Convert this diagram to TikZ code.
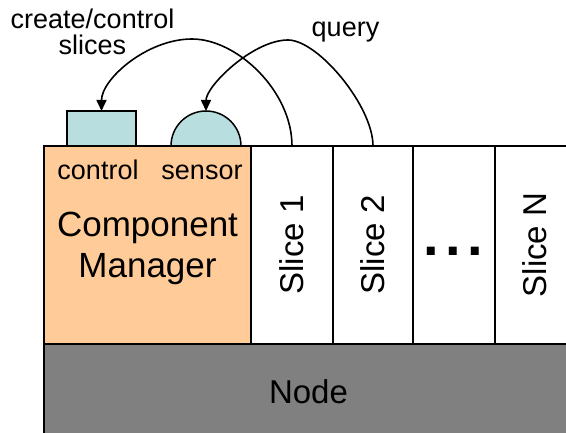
\documentclass[tikz,border=0pt]{standalone}
\usepackage{fontspec}
\setmainfont{Liberation Sans}
\usetikzlibrary{arrows.meta,calc}
\definecolor{peach}{HTML}{FFCC99}
\definecolor{tealbox}{HTML}{B8DEE0}
\definecolor{basegray}{HTML}{808080}
\begin{document}
\begin{tikzpicture}[x=1pt,y=-1pt,
  box/.style={draw=black, line width=1.5pt, inner sep=0pt, outer sep=0pt},
  small/.style={font=\fontsize{27}{31}\selectfont, inner sep=0pt, anchor=base},
  big/.style={font=\fontsize{35}{41}\selectfont, inner sep=0pt, anchor=base},
  slicetext/.style={font=\fontsize{33}{38}\selectfont, inner sep=0pt, rotate=90},
  arr/.style={line width=1.6pt, -{Triangle[length=11pt,width=10pt]}}]
\useasboundingbox (0,0) rectangle (566,433);
\clip (0,0) rectangle (566,433);
% base
\node[box, fill=basegray, minimum width=560pt, minimum height=120pt, anchor=north west] (base) at (44,344) {};
% component manager and slices
\node[box, fill=peach, minimum width=207pt, minimum height=198pt, anchor=north west] (cm) at (44,146) {};
\node[box, fill=white, minimum width=82pt, minimum height=198pt, anchor=north west] (s1) at (251,146) {};
\node[box, fill=white, minimum width=80pt, minimum height=198pt, anchor=north west] (s2) at (333,146) {};
\node[box, fill=white, minimum width=82pt, minimum height=198pt, anchor=north west] (sd) at (413,146) {};
\node[box, fill=white, minimum width=81pt, minimum height=198pt, anchor=north west] (sn) at (495,146) {};
% control and sensor
\node[box, fill=tealbox, minimum width=69pt, minimum height=35pt, anchor=south west] (ctrl) at (67,146) {};
\draw[line width=1.5pt, fill=tealbox] (171,146) arc[start angle=180, end angle=0, radius=35pt] -- cycle;
\coordinate (sensor) at (206,111);
% arrow apexes
\coordinate (p1) at (192,39);
\coordinate (p2) at (288,40);
% arrows
\draw[arr] (s1.north) .. controls ($(s1.north)+(0,-55)$) and ($(p1)+(45,0)$) .. (p1)
  .. controls ($(p1)+(-45,0)$) and ($(ctrl.north)+(0,-32)$) .. (ctrl.north);
\draw[arr] (s2.north) .. controls ($(s2.north)+(0,-40)$) and ($(p2)+(30,0)$) .. (p2)
  .. controls ($(p2)+(-35,0)$) and ($(sensor)+(0,-25)$) .. (sensor);
% texts
\node[small] (t1) at (92.5,29) {create/control};
\node[small] (t2) at (92.5,55) {slices};
\node[small] (tq) at (345.5,37) {query};
\node[small] (tc) at (98,180) {control};
\node[small] (ts) at (202,180) {sensor};
\node[big] (tcm1) at (147.5,237) {Component};
\node[big] (tcm2) at (147.5,278) {Manager};
\node[slicetext] (l1) at (s1.center) {Slice 1};
\node[slicetext] (l2) at (s2.center) {Slice 2};
\node[slicetext] (ln) at (535,245) {Slice N};
\node[font=\bfseries\fontsize{56}{60}\selectfont, inner sep=0pt, anchor=base] (dd) at (453.5,256) {.\hspace{6.4pt}.\hspace{6.4pt}.};
\node[font=\fontsize{33}{38}\selectfont, inner sep=0pt, anchor=base] (tn) at (308.5,403) {Node};
\end{tikzpicture}
\end{document}
